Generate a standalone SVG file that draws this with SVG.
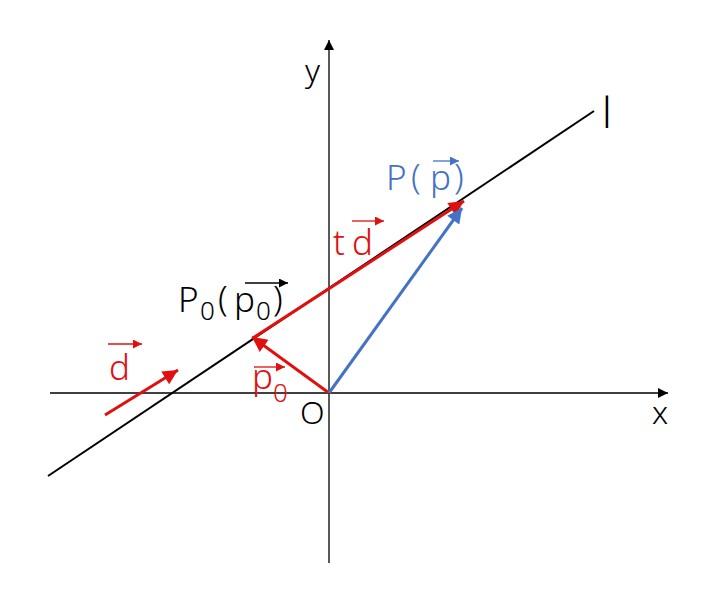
<svg xmlns="http://www.w3.org/2000/svg" width="714" height="591" viewBox="0 0 714 591">
<defs>
<style>
.t{font-family:"Noto Sans","Liberation Sans",sans-serif;font-weight:300}
.k{fill:#000}
.r{fill:#e01010}
.b{fill:#4472c4}
</style>
<marker id="ak" viewBox="0 0 10 10" refX="10" refY="5" markerWidth="10" markerHeight="10" markerUnits="userSpaceOnUse" orient="auto"><path d="M0,0 L10,5 L0,10 z" fill="#000"/></marker>
<marker id="ar" viewBox="0 0 10 10" refX="10" refY="5" markerWidth="16" markerHeight="15" markerUnits="userSpaceOnUse" orient="auto"><path d="M0,0 L10,5 L0,10 z" fill="#e01010"/></marker>
<marker id="ars" viewBox="0 0 10 10" refX="10" refY="5" markerWidth="9" markerHeight="9" markerUnits="userSpaceOnUse" orient="auto"><path d="M0,0 L10,5 L0,10 z" fill="#e01010"/></marker>
<marker id="ab" viewBox="0 0 10 10" refX="10" refY="5" markerWidth="16" markerHeight="15" markerUnits="userSpaceOnUse" orient="auto"><path d="M0,0 L10,5 L0,10 z" fill="#4472c4"/></marker>
<marker id="aks" viewBox="0 0 10 10" refX="10" refY="5" markerWidth="9" markerHeight="9" markerUnits="userSpaceOnUse" orient="auto"><path d="M0,0 L10,5 L0,10 z" fill="#000"/></marker>
<marker id="abs" viewBox="0 0 10 10" refX="10" refY="5" markerWidth="9" markerHeight="9" markerUnits="userSpaceOnUse" orient="auto"><path d="M0,0 L10,5 L0,10 z" fill="#4472c4"/></marker>
</defs>
<rect width="714" height="591" fill="#fff"/>
<g id="connectors">
<line x1="50" y1="393" x2="668" y2="393" stroke="#000" stroke-width="1.3" marker-end="url(#ak)"/>
<line x1="329" y1="563" x2="329" y2="40" stroke="#000" stroke-width="1.3" marker-end="url(#ak)"/>
<line x1="48" y1="476" x2="594" y2="111" stroke="#000" stroke-width="2"/>
<line x1="329" y1="393" x2="252" y2="337" stroke="#e01010" stroke-width="3" marker-end="url(#ar)"/>
<line x1="253" y1="338" x2="464" y2="201" stroke="#e01010" stroke-width="3" marker-end="url(#ar)"/>
<line x1="329" y1="393" x2="462" y2="208" stroke="#4472c4" stroke-width="3" marker-end="url(#ab)"/>
<line x1="105" y1="415" x2="178" y2="370" stroke="#e01010" stroke-width="3" marker-end="url(#ar)"/>
</g>
<g id="axis-labels">
<text class="t k" x="305" y="82" font-size="32">y</text>
<text class="t k" x="652" y="424" font-size="32">x</text>
<text class="t k" x="300" y="424" font-size="32">O</text>
<text class="t k" x="602" y="128" font-size="42" font-weight="400">l</text>
</g>
<g id="P0">
<text class="t k" x="178" y="312" font-size="35">P</text>
<text class="t k" x="200" y="320" font-size="26">0</text>
<text class="t k" x="218" y="311" font-size="35">(</text>
<text class="t k" x="234" y="312" font-size="35">p</text>
<text class="t k" x="256" y="320" font-size="26">0</text>
<text class="t k" x="273" y="311" font-size="35">)</text>
<line x1="245" y1="283" x2="288" y2="283" stroke="#000" stroke-width="1.3" marker-end="url(#aks)"/>
</g>
<g id="P">
<text class="b t" x="386" y="190" font-size="35">P</text>
<text class="b t" x="411" y="189" font-size="35">(</text>
<text class="b t" x="430" y="190" font-size="35">p</text>
<text class="b t" x="454" y="189" font-size="35">)</text>
<line x1="433" y1="161" x2="459" y2="161" stroke="#4472c4" stroke-width="1.3" marker-end="url(#abs)"/>
</g>
<g id="td">
<text class="r t" x="333" y="255" font-size="35">t</text>
<text class="r t" x="352" y="255" font-size="35">d</text>
<line x1="352" y1="221" x2="384" y2="221" stroke="#e01010" stroke-width="1.3" marker-end="url(#ars)"/>
</g>
<g id="d">
<text class="r t" x="109" y="380" font-size="35">d</text>
<line x1="108" y1="344" x2="142" y2="344" stroke="#e01010" stroke-width="1.3" marker-end="url(#ars)"/>
</g>
<g id="p0">
<text class="r t" x="252" y="389" font-size="35">p</text>
<text class="r t" x="273" y="402" font-size="26">0</text>
<line x1="254" y1="367" x2="285" y2="367" stroke="#e01010" stroke-width="1.3" marker-end="url(#ars)"/>
</g>
</svg>
